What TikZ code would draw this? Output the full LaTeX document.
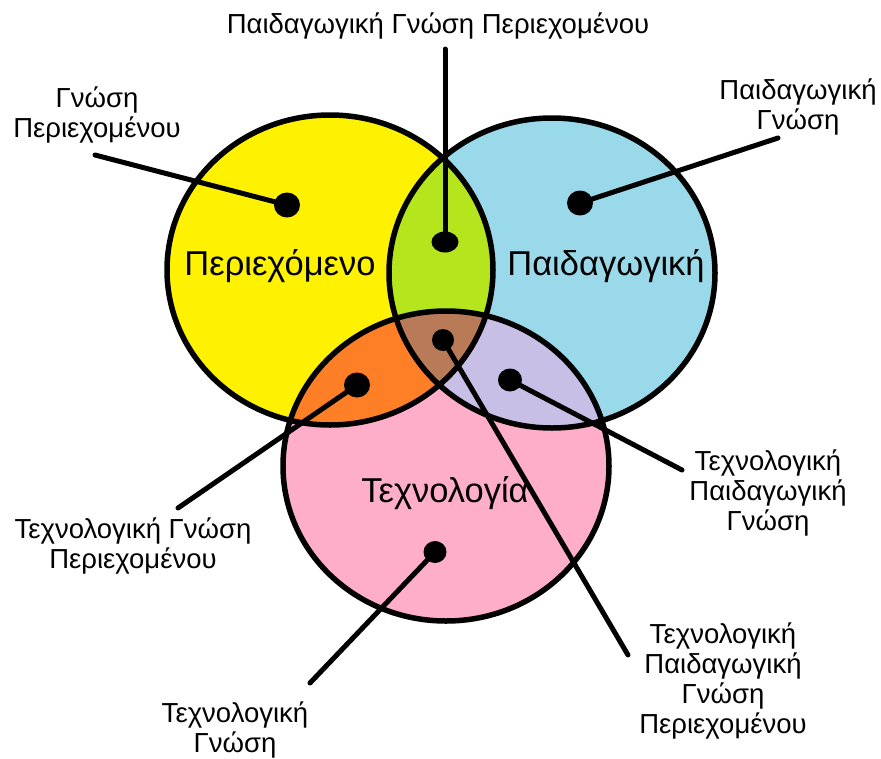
\documentclass[tikz,border=0pt]{standalone}
\usepackage{fontspec}
\setmainfont{Liberation Sans}
\usetikzlibrary{shapes.geometric}
\definecolor{cyel}{HTML}{FFF200}
\definecolor{cblu}{HTML}{99D9EA}
\definecolor{cpnk}{HTML}{FFAEC9}
\definecolor{cgrn}{HTML}{B5E61D}
\definecolor{corg}{HTML}{FF7F27}
\definecolor{clav}{HTML}{C8BFE7}
\definecolor{cbrn}{HTML}{B97A57}
\begin{document}
\begin{tikzpicture}[x=1pt,y=-1pt,
  er/.style={x radius=163pt, y radius=155pt},
  outline/.style={line width=5.5pt},
  conn/.style={line width=5pt, line cap=round},
  dot/.style={ellipse, fill=black, inner sep=0pt, minimum width=26pt, minimum height=25pt},
  lbl/.style={font=\fontsize{27.5}{30}\selectfont, align=center, inner sep=0pt, anchor=north},
  big/.style={font=\fontsize{34.5}{40}\selectfont, inner sep=0pt, anchor=base}]
\useasboundingbox[fill=white] (0,0) rectangle (881,758);
\coordinate (cY) at (330,270);
\coordinate (cB) at (552,273);
\coordinate (cP) at (446,466);
% fills
\fill[cyel] (cY) ellipse [er];
\fill[cblu] (cB) ellipse [er];
\fill[cpnk] (cP) ellipse [er];
\begin{scope}
  \clip (cB) ellipse [er];
  \fill[clav] (cP) ellipse [er];
\end{scope}
\begin{scope}
  \clip (cY) ellipse [er];
  \fill[cgrn] (cB) ellipse [er];
  \fill[corg] (cP) ellipse [er];
  \clip (cB) ellipse [er];
  \fill[cbrn] (cP) ellipse [er];
\end{scope}
% outlines
\draw[outline] (cY) ellipse [er];
\draw[outline] (cB) ellipse [er];
\draw[outline] (cP) ellipse [er];
% main labels
\node[big] (tY) at (280,275) {Περιεχόμενο};
\node[big] (tB) at (606,275) {Παιδαγωγική};
\node[big] (tP) at (445,502) {Τεχνολογία};
% dots
\node[dot] (dY) at (287,205) {};
\node[dot] (dB) at (580,203) {};
\node[dot, minimum width=27pt, minimum height=21pt] (dG) at (445,242) {};
\node[dot, minimum width=22pt, minimum height=22pt] (dBr) at (443,340) {};
\node[dot] (dO) at (357,385) {};
\node[dot, minimum width=24pt, minimum height=23pt] (dL) at (510,380) {};
\node[dot, minimum width=23pt, minimum height=22pt] (dP) at (435,552) {};
% labels
\node[font=\fontsize{27.5}{30}\selectfont, inner sep=0pt, anchor=base] (lPGP) at (438,33) {Παιδαγωγική Γνώση Περιεχομένου};
\node[lbl] (lGP) at (97,87) {Γνώση\\Περιεχομένου};
\node[lbl] (lPG) at (798,79) {Παιδαγωγική\\Γνώση};
\node[lbl] (lTGP) at (133,518) {Τεχνολογική Γνώση\\Περιεχομένου};
\node[lbl] (lTPG) at (768,450) {Τεχνολογική\\Παιδαγωγική\\Γνώση};
\node[lbl] (lTPGP) at (723,623) {Τεχνολογική\\Παιδαγωγική\\Γνώση\\Περιεχομένου};
\node[lbl] (lTG) at (235,702) {Τεχνολογική\\Γνώση};
% connector ends
\coordinate (eGP) at (95,155);
\coordinate (ePG) at (778,138);
\coordinate (ePGP) at (445,49);
\coordinate (eTGP) at (178,508);
\coordinate (eTPG) at (682,470);
\coordinate (eTPGP) at (628,655);
\coordinate (eTG) at (310,683);
% connectors
\draw[conn] (dY.center) -- (eGP);
\draw[conn] (dB.center) -- (ePG);
\draw[conn] (dG.center) -- (ePGP);
\draw[conn] (dO.center) -- (eTGP);
\draw[conn] (dL.center) -- (eTPG);
\draw[conn] (dBr.center) -- (eTPGP);
\draw[conn] (dP.center) -- (eTG);
\end{tikzpicture}
\end{document}
